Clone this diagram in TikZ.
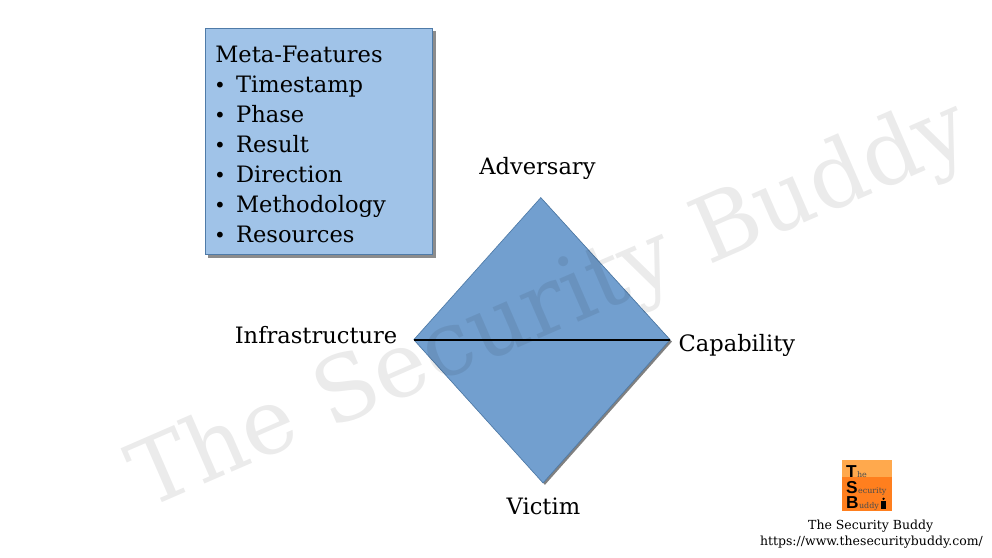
\documentclass[tikz,border=0pt]{standalone}
\usepackage{fontspec}
\setmainfont{DejaVu Serif}
\newfontfamily\logofont{Liberation Sans}
\usepackage{xcolor}
\definecolor{tsbbox}{HTML}{A0C3E8}
\definecolor{tsbdiamond}{HTML}{729FCF}
\definecolor{tsbedge}{HTML}{4F7BA8}
\definecolor{tsblight}{HTML}{FFA94D}
\definecolor{tsbdark}{HTML}{FF7F1E}
\newcommand{\metaitem}[1]{\makebox[0.55cm][l]{\hspace{-0.03cm}{\fontsize{15}{15}\selectfont •}}#1}
\begin{document}
\begin{tikzpicture}[
  metabox/.style={draw=tsbedge, fill=tsbbox, minimum width=6cm, minimum height=6cm, line width=0.6pt},
  metatext/.style={font=\fontsize{17}{22.6}\selectfont, align=left, anchor=north west, inner sep=0pt},
  vertex/.style={font=\fontsize{17}{20}\selectfont, inner sep=0pt},
  footer/.style={font=\fontsize{9.4}{12}\selectfont, inner sep=0pt},
  logocap/.style={font=\logofont\fontsize{13}{13}\selectfont\bfseries, inner sep=0pt, anchor=base west},
  logosmall/.style={font=\fontsize{6}{6}\selectfont, inner sep=0pt, anchor=base west, text=black!70}
]
\useasboundingbox (0,0) rectangle (26.25,14.76);

% Meta-features box
\fill[black!45] (5.51,7.94) rectangle (11.53,13.94);
\node[metabox] (meta) at (8.44,11.02) {};
\node[metatext] (metalist) at (5.69,13.56) {Meta-Features\\
  \metaitem{Timestamp}\\
  \metaitem{Phase}\\
  \metaitem{Result}\\
  \metaitem{Direction}\\
  \metaitem{Methodology}\\
  \metaitem{Resources}};

% Diamond corners
\coordinate (adv) at (14.31,9.53);
\coordinate (cap) at (17.73,5.77);
\coordinate (vic) at (14.37,1.98);
\coordinate (inf) at (10.95,5.77);
\fill[black!50] (adv) ++(0.05,-0.05) -- ([xshift=0.05cm,yshift=-0.05cm]cap) -- ([xshift=0.05cm,yshift=-0.05cm]vic) -- ([xshift=0.05cm,yshift=-0.05cm]inf) -- cycle;
\draw[fill=tsbdiamond, draw=tsbedge, line width=0.5pt] (adv) -- (cap) -- (vic) -- (inf) -- cycle;
\draw[line width=1.4pt] (inf) -- (cap);

% Vertex labels
\node[vertex, anchor=base] (adversary) at (14.22,10.14) {Adversary};
\node[vertex, anchor=base west] (capability) at (17.95,5.46) {Capability};
\node[vertex, anchor=base] (victim) at (14.38,1.14) {Victim};
\node[vertex, anchor=base east] (infrastructure) at (10.52,5.66) {Infrastructure};

% Logo
\node[fill=tsbdark, minimum size=1.32cm, inner sep=0pt] (logo) at (22.94,1.91) {};
\fill[tsblight] (logo.north west) rectangle ([yshift=-0.43cm]logo.north east);
\node[logocap] (capt) at (22.38,2.13) {T};
\node[logocap] (caps) at (22.38,1.7) {S};
\node[logocap] (capb) at (22.38,1.3) {B};
\node[logosmall] at (capt.base east) {he};
\node[logosmall] at (caps.base east) {ecurity};
\node[logosmall] at (capb.base east) {uddy};
\fill[black] (23.32,1.3) rectangle (23.44,1.5);
\fill[black] (23.38,1.56) circle (0.035);

% Footer
\node[footer, anchor=base] (tsb) at (23.04,0.75) {The Security Buddy};
\node[footer, anchor=base] (url) at (23.06,0.33) {https://www.thesecuritybuddy.com/};

% Watermark
\node[font=\fontsize{68}{70}\selectfont, text=black, text opacity=0.08, rotate=23.5, inner sep=0pt] (mark) at (14.58,6.63) {The Security Buddy};

\end{tikzpicture}
\end{document}
